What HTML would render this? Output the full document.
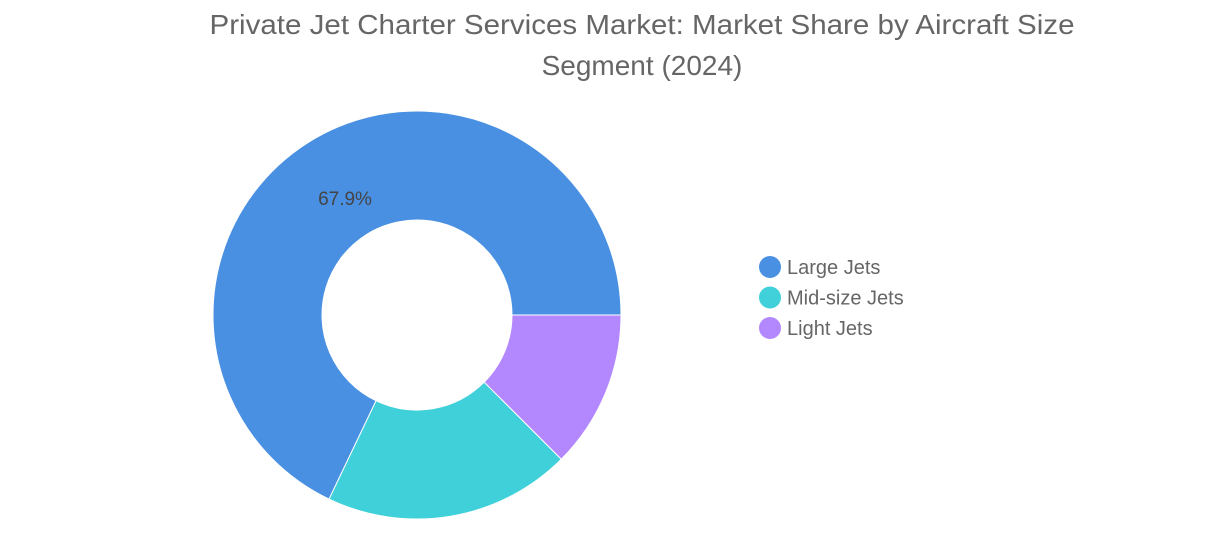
<!DOCTYPE html>
<html><head><meta charset="utf-8"><style>
html,body{margin:0;padding:0;background:#fff;}
svg{display:block;font-family:"Liberation Sans",sans-serif;}
</style></head><body>
<svg id="chart" width="1231" height="556" viewBox="0 0 1231 556">
<g fill="#666" font-size="28" text-anchor="middle">
<text x="642" y="34" textLength="865" lengthAdjust="spacingAndGlyphs">Private Jet Charter Services Market: Market Share by Aircraft Size</text>
<text x="642" y="75">Segment (2024)</text>
</g>
<g id="slices"></g>
<g id="legend"></g>
</svg>
<script>
const categories = ["Light Jets", "Mid-size Jets", "Large Jets"];
const values = [12.5, 19.6, 67.9];
const colors = ["#b388ff", "#3fd0da", "#4a90e2"];
const legendOrder = ["Large Jets", "Mid-size Jets", "Light Jets"];
const legendColors = ["#4a90e2", "#3fd0da", "#b388ff"];

const NS = "http://www.w3.org/2000/svg";
const cx = 417, cy = 315, R = 204, r = 95;
const total = values.reduce((a, b) => a + b, 0);
const g = document.getElementById("slices");
let a0 = 0;
function pt(rad, a){ return [cx + rad*Math.cos(a), cy + rad*Math.sin(a)]; }
values.forEach((v, i) => {
  const a1 = a0 + v/total*2*Math.PI;
  const large = (a1 - a0) > Math.PI ? 1 : 0;
  const [x0,y0] = pt(R,a0), [x1,y1] = pt(R,a1), [x2,y2] = pt(r,a1), [x3,y3] = pt(r,a0);
  const p = document.createElementNS(NS, "path");
  p.setAttribute("d", `M${x0},${y0}A${R},${R} 0 ${large} 1 ${x1},${y1}L${x2},${y2}A${r},${r} 0 ${large} 0 ${x3},${y3}Z`);
  p.setAttribute("fill", colors[i]);
  p.setAttribute("stroke", "#fff");
  p.setAttribute("stroke-width", "1");
  
  
  g.appendChild(p);
  if (v > 50) {
    const mid = (a0 + a1)/2;
    const [lx, ly] = pt(R*0.72, mid + 0.62);
    const t = document.createElementNS(NS, "text");
    t.setAttribute("x", 345); t.setAttribute("y", 205);
    t.setAttribute("text-anchor", "middle");
    t.setAttribute("font-size", "19"); t.setAttribute("fill", "#444");
    t.textContent = v.toFixed(1) + "%";
    
    
    g.appendChild(t);
  }
  a0 = a1;
});
const lg = document.getElementById("legend");
legendOrder.forEach((name, i) => {
  const y = 267 + i*30.5;
  const c = document.createElementNS(NS, "circle");
  c.setAttribute("cx", 770); c.setAttribute("cy", y); c.setAttribute("r", 11);
  c.setAttribute("fill", legendColors[i]);
  
  
  lg.appendChild(c);
  const t = document.createElementNS(NS, "text");
  t.setAttribute("x", 787); t.setAttribute("y", y + 7);
  t.setAttribute("font-size", "20"); t.setAttribute("fill", "#666");
  t.textContent = name;
  
  
  lg.appendChild(t);
});
</script>
</body></html>
